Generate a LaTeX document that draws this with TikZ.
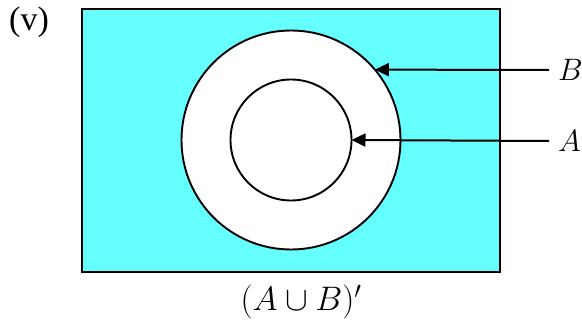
\RequirePackage{fix-cm}
\documentclass[tikz,border=0pt]{standalone}
\usepackage{fontspec}
\setmainfont{Liberation Serif}
\usetikzlibrary{arrows.meta}
\definecolor{vennfill}{RGB}{102,255,255}
\tikzset{
  setcirc/.style={circle,draw,line width=1.9pt,fill=white,inner sep=0pt,outer sep=0pt},
  pointer/.style={line width=2pt,-{Triangle[length=14pt,width=13pt]}},
  lbl/.style={font=\fontsize{31}{36}\selectfont,inner sep=0pt}
}
\begin{document}
\begin{tikzpicture}[x=1pt,y=-1pt]
\useasboundingbox (0,0) rectangle (582,329);
\draw[line width=2.6pt,fill=vennfill] (82,9) rectangle (500,272);

\node[setcirc,minimum size=219pt] (setB) at (291,140) {};
\node[setcirc,minimum size=121pt] (setA) at (291,140) {};

\node[lbl,anchor=west] (labB) at (558,70) {$B$};
\node[lbl,anchor=west] (labA) at (558,141) {$A$};
\draw[pointer] (labB.west) ++(-9,0) coordinate (tailB) -- (setB.40);
\draw[pointer] (labA.west) ++(-9,0) coordinate (tailA) -- (setA.east);

\node[lbl,font=\fontsize{34}{40}\selectfont] (part) at (29,22) {(v)};
\node[lbl,font=\fontsize{34}{40}\selectfont] (caption) at (301,302) {$(A\cup B)'$};
\end{tikzpicture}
\end{document}
